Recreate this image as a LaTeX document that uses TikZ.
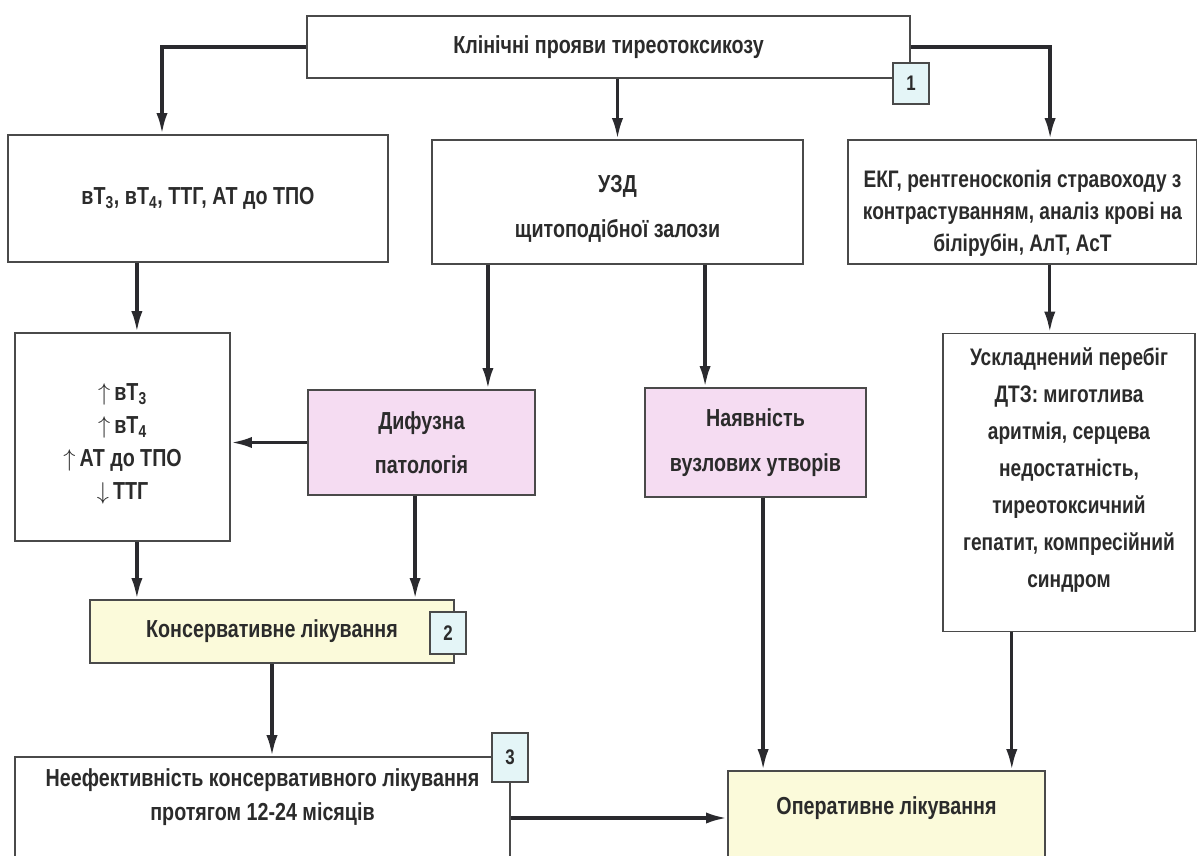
\documentclass[tikz,border=0pt]{standalone}
\usepackage{fontspec}
\setmainfont{Liberation Sans}[FakeStretch=0.8]
\usepackage{tikz}
\usetikzlibrary{arrows.meta}

\definecolor{boxline}{HTML}{4A4A4A}
\definecolor{arrline}{HTML}{2A2A2E}
\definecolor{txtcol}{HTML}{2B2B2B}
\definecolor{pinkfill}{HTML}{F5DCF2}
\definecolor{yellowfill}{HTML}{FBFADA}
\definecolor{badgefill}{HTML}{E4F5F7}

\begin{document}
\begin{tikzpicture}[x=0.025cm, y=-0.025cm,
    txt/.style={align=center, text=txtcol, inner sep=0pt, font=\bfseries\fontsize{17.5}{24}\selectfont},
    smalltxt/.style={txt, font=\bfseries\fontsize{17}{24}\selectfont},
    box/.style={txt, draw=boxline, line width=1.1pt, rectangle, fill=white},
    pinkbox/.style={box, fill=pinkfill},
    yellowbox/.style={box, fill=yellowfill},
    badge/.style={draw=boxline, line width=1.1pt, rectangle, fill=badgefill, inner sep=0pt, text=txtcol, font=\bfseries\fontsize{15}{17}\selectfont, minimum width=0.9cm},
    arr/.style={-{Latex[length=15pt, width=8pt]}, line width=2.4pt, draw=arrline}
]
    \clip (0, 0) rectangle (1197, 855);
    \fill[white] (0, 0) rectangle (1197, 855);

    \draw
        (608.5, 47) node[box, minimum width=15.08cm, minimum height=1.55cm](clinic){Клінічні прояви тиреотоксикозу}
        (198, 198.5) node[box, minimum width=9.5cm, minimum height=3.18cm](tests){вТ\textsubscript{3}, вТ\textsubscript{4}, ТТГ, АТ до ТПО}
        (617.5, 202) node[box, minimum width=9.28cm, minimum height=3.1cm](uzd){}
        (1022.5, 202) node[box, minimum width=8.73cm, minimum height=3.1cm](ekg){}
        (122.5, 437) node[box, minimum width=5.38cm, minimum height=5.2cm](labs){}
        (421.5, 442.5) node[pinkbox, minimum width=5.68cm, minimum height=2.63cm](diff){Дифузна\\[7.3pt]патологія}
        (755.5, 442.5) node[pinkbox, minimum width=5.53cm, minimum height=2.73cm](nodul){Наявність\\[8pt]вузлових утворів}
        (1069, 482.5) node[box, minimum width=6.3cm, minimum height=7.45cm](compl){}
        (272, 631.5) node[yellowbox, minimum width=9.1cm, minimum height=1.58cm](conserv){Консервативне лікування}
        (262.5, 818) node[box, minimum width=12.38cm, minimum height=3.05cm](fail){}
        (886.5, 825) node[yellowbox, minimum width=7.93cm, minimum height=2.7cm](oper){}
    ;
    \draw
        (617.5, 209) node[txt](uzdtxt){УЗД\\[8pt]щитоподібної залози}
        (1022.5, 213) node[smalltxt](ekgtxt){ЕКГ, рентгеноскопія стравоходу з\\[-1.2pt]контрастуванням, аналіз крові на\\[-1.2pt]білірубін, АлТ, АсТ}
        (122.5, 444) node[txt](labstxt){$\uparrow$\,вТ\textsubscript{3}\\[-0.5pt]$\uparrow$\,вТ\textsubscript{4}\\[-0.5pt]$\uparrow$\,АТ до ТПО\\[-0.5pt]$\downarrow$\,ТТГ}
        (1069, 470) node[smalltxt](compltxt){Ускладнений перебіг\\[2.3pt]ДТЗ: миготлива\\[2.3pt]аритмія, серцева\\[2.3pt]недостатність,\\[2.3pt]тиреотоксичний\\[2.3pt]гепатит, компресійний\\[2.3pt]синдром}
        (262.5, 797) node[txt](failtxt){Неефективність консервативного лікування\\протягом 12-24 місяців}
        (886.5, 808) node[txt](opertxt){Оперативне лікування}
        (911, 83.5) node[badge, minimum height=1.03cm](one){1}
        (448, 633) node[badge, minimum height=1.05cm](two){2}
        (510, 757.5) node[badge, minimum height=1.23cm](three){3}
    ;

    % connectors
    \draw[arr] (clinic.west) -| ([xshift=-0.9cm]tests.north);
    \draw[arr] (uzd.north |- clinic.south) -- (uzd.north);
    \draw[arr] (clinic.east) -| ([xshift=0.69cm]ekg.north);
    \draw[arr] ([xshift=0.36cm]labs.north |- tests.south) -- ([xshift=0.36cm]labs.north);
    \draw[arr] ([xshift=1.66cm]diff.north |- uzd.south) -- ([xshift=1.66cm]diff.north);
    \draw[arr] ([xshift=-1.26cm]nodul.north |- uzd.south) -- ([xshift=-1.26cm]nodul.north);
    \draw[arr] ([xshift=-0.48cm]compl.north |- ekg.south) -- ([xshift=-0.48cm]compl.north);
    \draw[arr] (diff.west) -- (diff.west -| labs.east);
    \draw[arr] ([xshift=0.36cm]labs.south) -- ([xshift=0.36cm]labs.south |- conserv.north);
    \draw[arr] ([xshift=-0.16cm]diff.south) -- ([xshift=-0.16cm]diff.south |- conserv.north);
    \draw[arr] (conserv.south) -- (conserv.south |- fail.north);
    \draw[arr] (fail.east) -- (fail.east -| oper.west);
    \draw[arr] ([xshift=0.19cm]nodul.south) -- ([xshift=0.19cm]nodul.south |- oper.north);
    \draw[arr] ([xshift=-1.43cm]compl.south) -- ([xshift=-1.43cm]compl.south |- oper.north);
\end{tikzpicture}
\end{document}
